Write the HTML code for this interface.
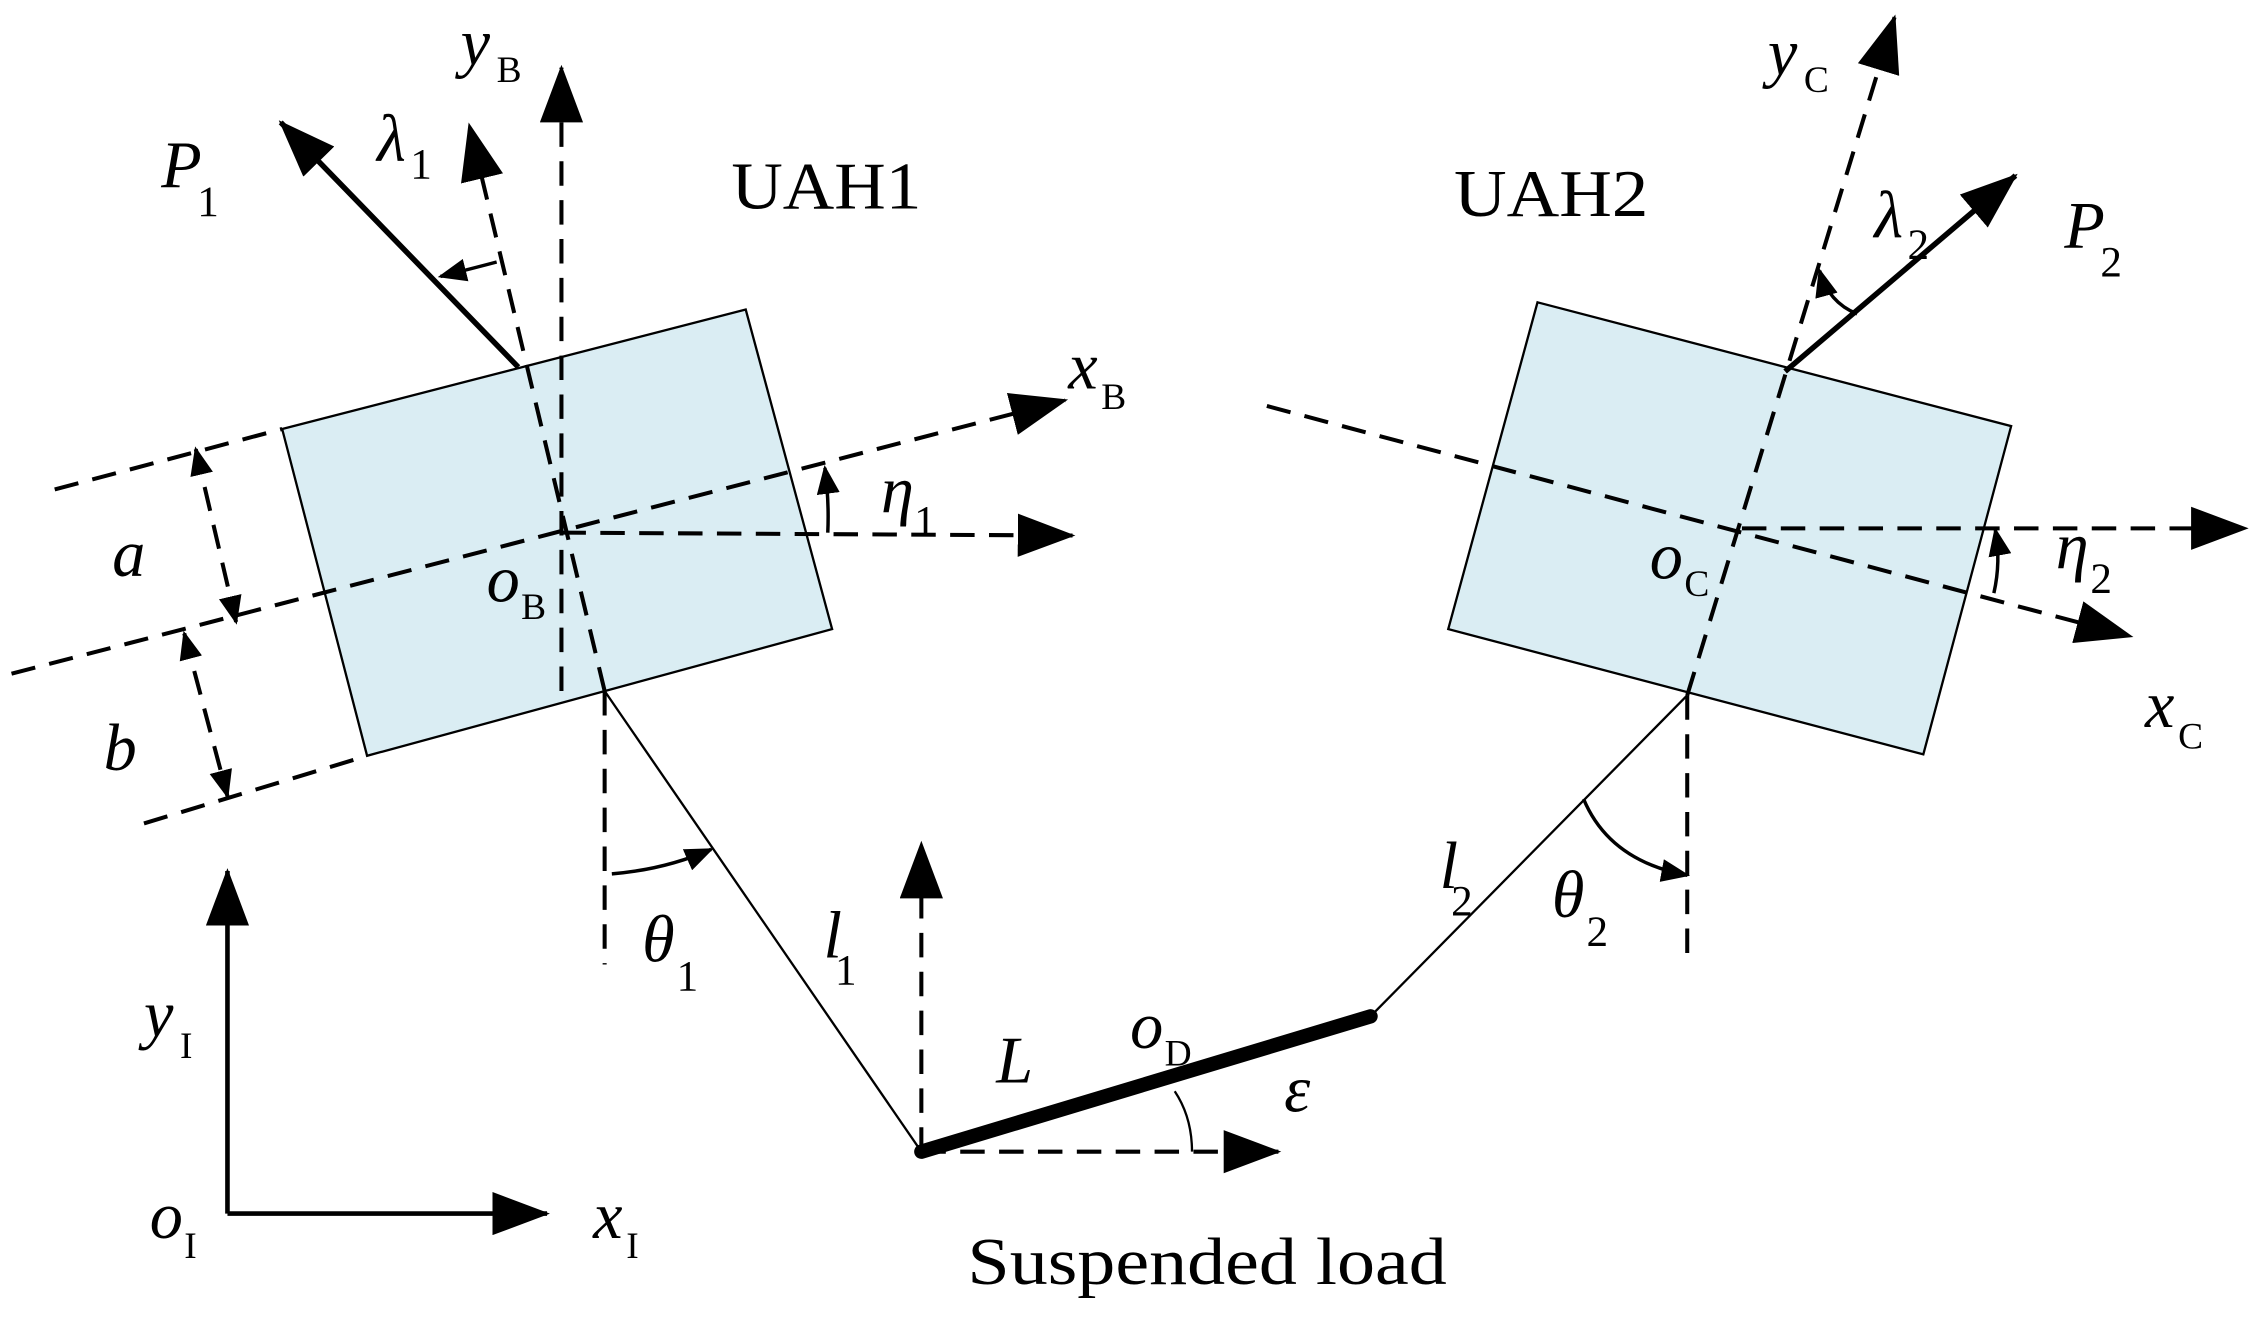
<!DOCTYPE html>
<html><head><meta charset="utf-8"><style>
html,body{margin:0;padding:0;background:#fff}
svg{display:block}
text{font-family:"Liberation Serif",serif;fill:#000}
.i{font-style:italic}
</style></head><body>
<svg width="2253" height="1323" viewBox="0 0 1565 919" preserveAspectRatio="none" xmlns="http://www.w3.org/2000/svg">
<defs>
<marker id="a" viewBox="0 0 40 30" refX="38" refY="15" markerWidth="40" markerHeight="30" markerUnits="userSpaceOnUse" orient="auto"><path d="M0,0 L40,15 L0,30 Z" fill="#000"/></marker>
<marker id="s" viewBox="0 0 20 16" refX="18" refY="8" markerWidth="20" markerHeight="16" markerUnits="userSpaceOnUse" orient="auto"><path d="M0,0 L20,8 L0,16 Z" fill="#000"/></marker>
<marker id="sr" viewBox="0 0 20 16" refX="2" refY="8" markerWidth="20" markerHeight="16" markerUnits="userSpaceOnUse" orient="auto"><path d="M20,0 L0,8 L20,16 Z" fill="#000"/></marker>
</defs>
<g stroke="#000" fill="none">
<polygon points="196,298 518,215 578,437 255,525" fill="#daedf3" stroke-width="1.6"/>
<polygon points="1068,210 1397,296 1336,524 1006,437" fill="#daedf3" stroke-width="1.6"/>
<g stroke-width="2.8" stroke-dasharray="17,10">
<line x1="390" y1="480" x2="390" y2="47" marker-end="url(#a)"/>
<line x1="420" y1="480" x2="326" y2="87" marker-end="url(#a)"/>
<line x1="8" y1="468" x2="740" y2="278" marker-end="url(#a)"/>
<line x1="390" y1="370" x2="745" y2="372" marker-end="url(#a)"/>
<line x1="38" y1="340" x2="196" y2="298"/>
<line x1="100" y1="572" x2="255" y2="525"/>
<line x1="136" y1="312" x2="164" y2="432" marker-start="url(#sr)" marker-end="url(#s)"/>
<line x1="128" y1="440" x2="158" y2="553" marker-start="url(#sr)" marker-end="url(#s)"/>
<line x1="420" y1="480" x2="420" y2="670"/>
<line x1="1172" y1="483" x2="1172" y2="670"/>
<line x1="640" y1="800" x2="640" y2="586" marker-end="url(#a)"/>
<line x1="640" y1="800" x2="888" y2="800" marker-end="url(#a)"/>
<line x1="1172" y1="483" x2="1316" y2="12" marker-end="url(#a)"/>
<line x1="880" y1="282" x2="1480" y2="442" marker-end="url(#a)"/>
<line x1="1210" y1="367" x2="1560" y2="367" marker-end="url(#a)"/>
</g>
<line x1="360" y1="255" x2="195" y2="85" stroke-width="3.8" marker-end="url(#a)"/>
<line x1="1240" y1="258" x2="1400" y2="122" stroke-width="3.8" marker-end="url(#a)"/>
<line x1="158" y1="843" x2="158" y2="605" stroke-width="3.2" marker-end="url(#a)"/>
<line x1="158" y1="843" x2="380" y2="843" stroke-width="3.2" marker-end="url(#a)"/>
<line x1="420" y1="480" x2="640" y2="800" stroke-width="1.6"/>
<line x1="952" y1="706" x2="1172" y2="483" stroke-width="1.6"/>
<line x1="640" y1="800" x2="952" y2="706" stroke-width="10" stroke-linecap="round"/>
<path d="M345,182 Q330,186 306,192" stroke-width="2.4" marker-end="url(#s)"/>
<path d="M575,370 Q576,348 573,325" stroke-width="2.4" marker-end="url(#s)"/>
<path d="M425,607 Q462,604 494,590" stroke-width="2.4" marker-end="url(#s)"/>
<path d="M828,800 Q828,776 816,758" stroke-width="1.6"/>
<path d="M1100,555 Q1118,598 1172,608" stroke-width="2.4" marker-end="url(#s)"/>
<path d="M1290,218 Q1270,210 1264,188" stroke-width="2.4" marker-end="url(#s)"/>
<path d="M1385,412 Q1390,390 1386,368" stroke-width="2.4" marker-end="url(#s)"/>
</g>
<g font-size="46">
<text x="508" y="145" textLength="132" lengthAdjust="spacingAndGlyphs">UAH1</text>
<text x="1010" y="150" textLength="135" lengthAdjust="spacingAndGlyphs">UAH2</text>
<text x="672" y="892" textLength="333" lengthAdjust="spacingAndGlyphs">Suspended load</text>
<text class="i" x="320" y="45">y</text><text x="345" y="57" font-size="26">B</text>
<text class="i" x="112" y="130">P</text><text x="137" y="150" font-size="30">1</text>
<text class="i" x="262" y="112">λ</text><text x="285" y="124" font-size="30">1</text>
<text class="i" x="742" y="270">x</text><text x="765" y="284" font-size="26">B</text>
<text class="i" x="612" y="356">η</text><text x="635" y="372" font-size="30">1</text>
<text class="i" x="78" y="400">a</text>
<text class="i" x="72" y="535">b</text>
<text class="i" x="338" y="418">o</text><text x="362" y="430" font-size="26">B</text>
<text class="i" x="446" y="668">θ</text><text x="470" y="688" font-size="30">1</text>
<text class="i" x="572" y="665">l</text><text x="580" y="684" font-size="30">1</text>
<text class="i" x="692" y="752">L</text>
<text class="i" x="785" y="728">o</text><text x="809" y="740" font-size="26">D</text>
<text class="i" x="892" y="772">ε</text>
<text class="i" x="1000" y="617">l</text><text x="1008" y="636" font-size="30">2</text>
<text class="i" x="1078" y="637">θ</text><text x="1102" y="657" font-size="30">2</text>
<text class="i" x="1228" y="52">y</text><text x="1253" y="64" font-size="26">C</text>
<text class="i" x="1302" y="165">λ</text><text x="1325" y="180" font-size="30">2</text>
<text class="i" x="1434" y="172">P</text><text x="1459" y="192" font-size="30">2</text>
<text class="i" x="1146" y="402">o</text><text x="1170" y="414" font-size="26">C</text>
<text class="i" x="1428" y="395">η</text><text x="1452" y="412" font-size="30">2</text>
<text class="i" x="1490" y="505">x</text><text x="1513" y="520" font-size="26">C</text>
<text class="i" x="100" y="720">y</text><text x="125" y="735" font-size="26">I</text>
<text class="i" x="104" y="860">o</text><text x="128" y="874" font-size="26">I</text>
<text class="i" x="412" y="860">x</text><text x="435" y="874" font-size="26">I</text>
</g>
</svg>
</body></html>
